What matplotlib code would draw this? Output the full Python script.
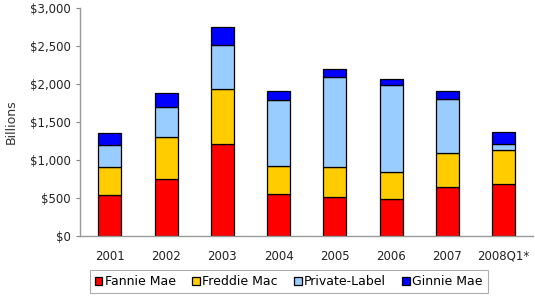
import matplotlib
matplotlib.use("Agg")
import matplotlib.pyplot as plt
import numpy as np
from matplotlib.ticker import FuncFormatter

years = ["2001", "2002", "2003", "2004", "2005", "2006", "2007", "2008Q1*"]
fannie = [539, 750, 1211, 553, 518, 487, 640, 680]
freddie = [373, 548, 719, 368, 386, 355, 456, 452]
private = [281, 404, 579, 868, 1192, 1140, 711, 79]
ginnie = [166, 184, 237, 123, 101, 84, 101, 162]

series = [
    ("Fannie Mae", fannie, "#FF0000"),
    ("Freddie Mac", freddie, "#FFCC00"),
    ("Private-Label", private, "#99CCFF"),
    ("Ginnie Mae", ginnie, "#0000FF"),
]

plt.rcParams["font.family"] = ["DejaVu Sans"]
fig = plt.figure(figsize=(5.35, 2.96), dpi=100)
ax = fig.add_axes([0.1495, 0.203, 0.8465, 0.770])

x = np.arange(len(years))
bottom = np.zeros(len(years))
for name, vals, color in series:
    ax.bar(x, vals, width=0.41, bottom=bottom, color=color,
           edgecolor="black", linewidth=0.9, label=name)
    bottom += np.array(vals)

ax.set_xlim(-0.53, 7.52)
ax.set_ylim(0, 3000)
ax.set_yticks(np.arange(0, 3001, 500))
ax.yaxis.set_major_formatter(FuncFormatter(lambda v, p: f"${v:,.0f}"))
ax.set_xticks(x)
ax.set_xticklabels(years)
ax.tick_params(axis="x", length=0, pad=10, labelsize=8.5, colors="#222222")
ax.tick_params(axis="y", length=3, width=0.8, color="#888888",
               labelsize=8.5, labelcolor="#222222")
for s in ["top", "right"]:
    ax.spines[s].set_visible(False)
for s in ["left", "bottom"]:
    ax.spines[s].set_color("#999999")
    ax.spines[s].set_linewidth(1.0)
ax.set_ylabel("Billions", fontsize=9, color="#333333", labelpad=9)

leg = fig.legend(loc="upper center", bbox_to_anchor=(0.54, 0.108), ncol=4,
                 fontsize=9, frameon=True, fancybox=False,
                 handlelength=0.6, handleheight=0.6, handletextpad=0.2,
                 columnspacing=1.3, borderpad=0.4)
leg.get_frame().set_edgecolor("#999999")
leg.get_frame().set_linewidth(0.8)

fig.savefig("out.png", dpi=100)
